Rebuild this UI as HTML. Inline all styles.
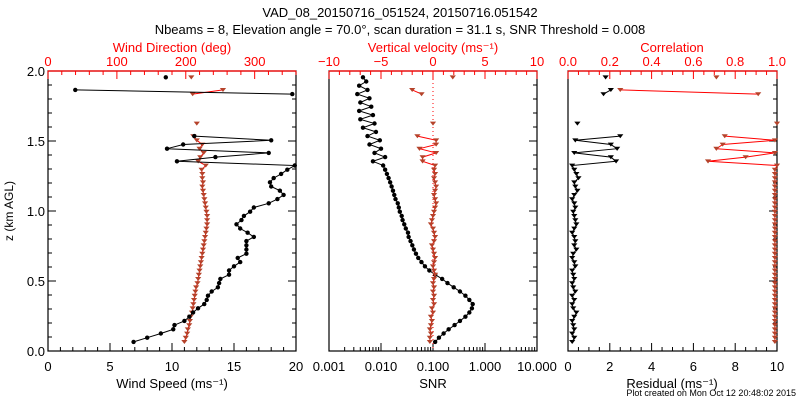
<!DOCTYPE html>
<html><head><meta charset="utf-8">
<style>
html,body{margin:0;padding:0;background:#fff;}
svg{display:block;font-family:"Liberation Sans","DejaVu Sans",sans-serif;}
</style></head>
<body>
<svg id="c" width="800" height="400" viewBox="0 0 800 400">
<text x="400" y="17" text-anchor="middle" font-size="13">VAD_08_20150716_051524, 20150716.051542</text>
<text x="400" y="34" text-anchor="middle" font-size="13">Nbeams = 8, Elevation angle = 70.0°, scan duration = 31.1 s, SNR Threshold = 0.008</text>
<text transform="translate(13,211) rotate(-90)" text-anchor="middle" font-size="12">z (km AGL)</text>
<text x="796" y="396" text-anchor="end" font-size="9">Plot created on Mon Oct 12 20:48:02 2015</text>
</svg>
<script>
// Height grid (km) – 64 levels
const heights = [];
for (let i = 0; i < 64; i++) heights.push(+(0.065 + 0.03 * i).toFixed(3));

const windSpeed = [6.9,8.0,9.1,10.1,10.2,11.0,11.4,11.7,12.1,12.6,12.8,12.9,13.2,13.7,13.8,13.9,14.6,14.6,15.0,15.5,15.3,16.0,16.0,16.0,16.0,16.6,16.1,15.5,15.2,15.6,15.8,16.3,16.6,17.8,18.5,19.0,18.7,18.0,17.9,18.2,18.8,19.3,
 19.9,10.4,13.5,17.8,9.6,10.9,18.0,11.8,null,null,null,null,null,null,null,null,null,19.7,2.2,null,null,9.5];
const windDir = [198,200,202,203,205,206,207,209,210,211,212,213,214,215,217,218,219,220,221,222,223,224,225,226,227,228,229,230,231,231,231,230,229,228,227,226,225,224,225,224,224,223,
 229,218,221,226,220,224,216,211,null,null,216,null,null,null,null,null,null,210,254,null,null,208];
const snr = [0.11,0.13,0.16,0.2,0.26,0.33,0.42,0.5,0.56,0.58,0.5,0.42,0.33,0.25,0.19,0.15,0.11,0.085,0.07,0.06,0.052,0.047,0.043,0.04,0.037,0.034,0.033,0.03,0.028,0.026,0.025,0.023,0.022,0.021,0.019,0.018,0.017,0.016,0.015,0.014,0.013,0.012,
 0.011,0.007,0.012,0.0075,0.01,0.006,0.0095,0.0055,0.008,0.0045,0.0075,0.004,0.007,0.0038,0.0065,0.004,0.006,0.0035,0.0055,0.0038,0.0052,0.0045];
const vertVel = [-0.3,-0.3,-0.2,-0.3,-0.2,-0.1,-0.2,0.0,-0.1,0.1,0.0,0.1,0.0,0.1,0.0,0.1,0.2,0.1,0.0,0.1,0.2,0.1,0.0,-0.1,0.1,0.2,0.1,0.0,-0.2,-0.1,0.0,0.1,0.2,0.3,0.2,0.1,0.2,0.3,0.2,0.1,0.2,0.1,
 0.2,-1.0,-1.0,0.3,-1.3,0.3,0.3,-1.5,null,null,0.0,null,null,null,null,null,null,-1.1,-2.0,null,null,1.9];
const residual = [0.2,0.3,0.2,0.3,0.25,0.2,0.3,0.4,0.25,0.2,0.3,0.2,0.35,0.25,0.2,0.3,0.25,0.2,0.35,0.3,0.2,0.25,0.4,0.3,0.35,0.3,0.2,0.3,0.4,0.35,0.3,0.25,0.35,0.3,0.2,0.3,0.45,0.35,0.3,0.5,0.4,0.3,
 0.2,2.3,2.05,0.3,2.35,2.05,0.35,2.5,null,null,0.45,null,null,null,null,null,null,1.7,2.05,null,null,1.8];
const correlation = [0.99,0.99,0.99,0.99,0.99,0.99,0.99,0.99,0.99,0.99,0.99,0.99,0.99,0.99,0.99,0.99,0.99,0.99,0.99,0.99,0.99,0.99,0.99,0.99,0.99,0.99,0.99,0.99,0.99,0.99,0.99,0.99,0.99,0.99,0.99,0.99,0.99,0.99,0.99,0.99,0.99,0.99,
 1.0,0.67,0.85,0.99,0.71,0.74,0.99,0.75,null,null,1.0,null,null,null,null,null,null,0.91,0.25,null,null,0.71];

const zTicks = ['0.0','0.5','1.0','1.5','2.0'];
const wsTicks = ['0','5','10','15','20'];
const wdTicks = ['0','100','200','300'];
const vvTicks = ['\u221210','\u22125','0','5','10'];
const snrTicks = ['0.001','0.010','0.100','1.000','10.000'];
const corrTicks = ['0.0','0.2','0.4','0.6','0.8','1.0'];
const resTicks = ['0','2','4','6','8','10'];

const NS = 'http://www.w3.org/2000/svg';
const svg = document.getElementById('c');
const RED = '#ff0000', BROWN = '#b5432b';
const Y0 = 351, Y1 = 71;
const yz = z => Y0 + (Y1 - Y0) * z / 2;

function el(tag, attrs, parent) {
  const e = document.createElementNS(NS, tag);
  for (const k in attrs) e.setAttribute(k, attrs[k]);
  (parent || svg).appendChild(e);
  return e;
}
function lin(d0, d1, r0, r1) { return v => r0 + (v - d0) * (r1 - r0) / (d1 - d0); }
function logs(d0, d1, r0, r1) { return v => r0 + (Math.log10(v) - Math.log10(d0)) * (r1 - r0) / (Math.log10(d1) - Math.log10(d0)); }

function frame(x0, x1, name) {
  const r = el('rect', {x: x0, y: Y1, width: x1 - x0, height: Y0 - Y1, fill: 'none', stroke: '#000', 'stroke-width': 1.2});
  
  
}
function tick(x1, y1, x2, y2, color) { el('line', {x1, y1, x2, y2, stroke: color, 'stroke-width': 1}); }
function label(x, y, t, color, anchor, size, name) {
  const e = el('text', {x, y, 'text-anchor': anchor || 'middle', 'font-size': size || 13, fill: color || '#000'});
  e.textContent = t;
  
  
  return e;
}

function series(xs, vals, lineColor, markColor, shape, name, linesOn) {
  const g = el('g', {});
  
  
  let pts = [];
  const flush = () => { if (pts.length > 1 && linesOn) el('polyline', {points: pts.join(' '), fill: 'none', stroke: lineColor, 'stroke-width': 1}, g); pts = []; };
  vals.forEach((v, i) => {
    if (v === null) { flush(); return; }
    pts.push(xs(v).toFixed(1) + ',' + yz(heights[i]).toFixed(1));
  });
  flush();
  vals.forEach((v, i) => {
    if (v === null) return;
    const x = xs(v), y = yz(heights[i]);
    let m;
    if (shape === 'circle') m = el('circle', {cx: x, cy: y, r: 2.2, fill: markColor}, g);
    else m = el('path', {d: `M${x-2.3},${y-1.5}h4.6l-2.3,3z`, fill: markColor, stroke: markColor, 'stroke-width': 0.8}, g);
    
    
  });
}

function zAxis(x0, x1, labels) {
  for (let k = 0; k <= 20; k++) {
    const y = yz(k * 0.1), len = k % 5 === 0 ? 8 : 4;
    if (labels) tick(x0, y, x0 + len, y, '#000');
    tick(x1, y, x1 - len, y, '#000');
  }
  if (labels) zTicks.forEach((t, i) => label(x0 - 3, yz(i * 0.5) + 5, t, '#000', 'end', 13, 'z-tick-label'));
}

// ===== Panel 1
const P1 = [48, 296];
const xWS = lin(0, 20, P1[0], P1[1]);
const xWD = lin(0, 360, P1[0], P1[1]);
frame(P1[0], P1[1], 'wind-panel-frame');
zAxis(P1[0], P1[1], true);
for (let v = 0; v <= 20; v++) tick(xWS(v), Y0, xWS(v), Y0 - (v % 5 === 0 ? 8 : 4), '#000');
wsTicks.forEach(t => label(xWS(+t), 371, t, '#000', 'middle', 13, 'wind-speed-tick'));
label(172, 388, 'Wind Speed (ms\u207B\u00B9)', '#000', 'middle', 13, 'wind-speed-axis-title');
el('line', {x1: P1[0], y1: Y1, x2: P1[1], y2: Y1, stroke: RED, 'stroke-width': 1.2});
for (let v = 0; v <= 360; v += 20) tick(xWD(v), Y1, xWD(v), Y1 + (v % 100 === 0 ? 8 : 4), RED);
wdTicks.forEach(t => label(xWD(+t), 66, t, RED, 'middle', 13, 'wind-direction-tick'));
label(172, 52, 'Wind Direction (deg)', RED, 'middle', 13, 'wind-direction-axis-title');
series(xWD, windDir, RED, BROWN, 'tri', 'wind-direction-series', true);
series(xWS, windSpeed, '#000', '#000', 'circle', 'wind-speed-series', true);

// ===== Panel 2
const P2 = [329, 537];
const xVV = lin(-10, 10, P2[0], P2[1]);
const xSNR = logs(0.001, 10, P2[0], P2[1]);
frame(P2[0], P2[1], 'snr-panel-frame');
zAxis(P2[0], P2[1], false);
for (let d = -3; d < 1; d++) for (let m = 1; m <= 10; m++) {
  const v = m * Math.pow(10, d);
  tick(xSNR(v), Y0, xSNR(v), Y0 - (m === 10 || m === 1 ? 8 : 4), '#000');
}
snrTicks.forEach(t => label(xSNR(+t), 371, t, '#000', 'middle', 13, 'snr-tick'));
label(433, 388, 'SNR', '#000', 'middle', 13, 'snr-axis-title');
el('line', {x1: P2[0], y1: Y1, x2: P2[1], y2: Y1, stroke: RED, 'stroke-width': 1.2});
for (let v = -10; v <= 10; v++) tick(xVV(v), Y1, xVV(v), Y1 + (v % 5 === 0 ? 8 : 4), RED);
vvTicks.forEach((t, i) => label(xVV(-10 + 5 * i), 66, t, RED, 'middle', 13, 'vertical-velocity-tick'));
label(433, 52, 'Vertical velocity (ms\u207B\u00B9)', RED, 'middle', 13, 'vertical-velocity-axis-title');
el('line', {x1: xVV(0), y1: Y1, x2: xVV(0), y2: Y0, stroke: RED, 'stroke-width': 1, 'stroke-dasharray': '1,3'});
series(xSNR, snr, '#000', '#000', 'circle', 'snr-series', true);
series(xVV, vertVel, RED, BROWN, 'tri', 'vertical-velocity-series', true);

// ===== Panel 3
const P3 = [568, 777];
const xRes = lin(0, 10, P3[0], P3[1]);
const xCor = lin(0, 1, P3[0], P3[1]);
frame(P3[0], P3[1], 'residual-panel-frame');
zAxis(P3[0], P3[1], false);
for (let v = 0; v <= 10; v += 0.5) tick(xRes(v), Y0, xRes(v), Y0 - (v % 2 === 0 ? 8 : 4), '#000');
resTicks.forEach(t => label(xRes(+t), 371, t, '#000', 'middle', 13, 'residual-tick'));
label(672, 388, 'Residual (ms\u207B\u00B9)', '#000', 'middle', 13, 'residual-axis-title');
el('line', {x1: P3[0], y1: Y1, x2: P3[1], y2: Y1, stroke: RED, 'stroke-width': 1.2});
for (let v = 0; v <= 20; v++) tick(xCor(v / 20), Y1, xCor(v / 20), Y1 + (v % 4 === 0 ? 8 : 4), RED);
corrTicks.forEach(t => label(xCor(+t), 66, t, RED, 'middle', 13, 'correlation-tick'));
label(672, 52, 'Correlation', RED, 'middle', 13, 'correlation-axis-title');
series(xCor, correlation, RED, BROWN, 'tri', 'correlation-series', true);
series(xRes, residual, '#000', '#000', 'tri', 'residual-series', true);
</script>
</body></html>
